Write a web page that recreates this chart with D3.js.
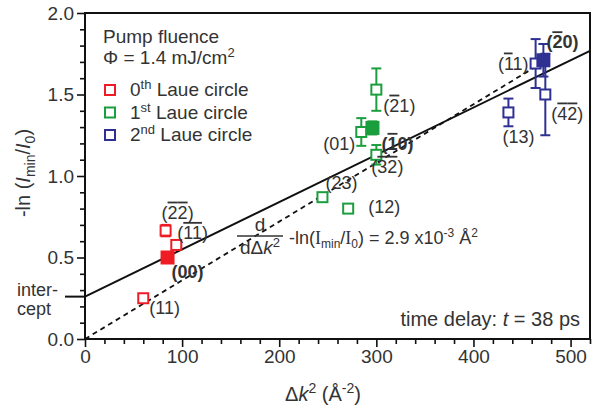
<!DOCTYPE html>
<html>
<head>
<meta charset="utf-8">
<script src="https://cdn.jsdelivr.net/npm/d3@7"></script>
<style>
body { margin: 0; background: #fff; }
svg { display: block; }
text { font-family: "Liberation Sans", Arial, sans-serif; fill: #333; }
</style>
</head>
<body>
<div id="root"></div>
<script>
// axis ticks
const xMajor = [0, 100, 200, 300, 400, 500];
const yMajor = [0.0, 0.5, 1.0, 1.5, 2.0];

// 0th Laue circle
const laue0X = [83, 94, 85, 60];
const laue0Y = [0.665, 0.577, 0.50, 0.25];
const laue0Err = [0.035, 0, 0, 0];
const laue0Filled = [false, false, true, false];
const laue0Labels = ["(-2-2)", "(-1-1)", "(00)", "(11)"];

// 1st Laue circle
const laue1X = [244.5, 271, 300, 284.5, 296, 300];
const laue1Y = [0.87, 0.80, 1.53, 1.27, 1.295, 1.13];
const laue1Err = [0, 0, 0.13, 0.085, 0.04, 0.06];
const laue1Filled = [false, false, false, false, true, false];
const laue1Labels = ["(23)", "(12)", "(-21)", "(01)", "(-10)", "(-3-2)"];

// 2nd Laue circle
const laue2X = [464, 472, 474, 436];
const laue2Y = [1.69, 1.71, 1.50, 1.39];
const laue2Err = [0.15, 0.10, 0.25, 0.085];
const laue2Filled = [false, true, false, false];
const laue2Labels = ["(-11)", "(-20)", "(-4-2)", "(13)"];

// fits
const fitSolid = { intercept: 0.26, slope: 0.0029, xEnd: 520 };
const fitDashed = { intercept: 0, slope: 0.0036, xEnd: 462 };

// label offsets in px from the marker
const labelPos = {
	"(-2-2)": [-4, -12], "(-1-1)": [1, -6], "(00)": [4, 20], "(11)": [6, 16],
	"(23)": [3, -8], "(12)": [20, 4], "(-21)": [7, 22], "(01)": [-6, 18, "end"],
	"(-10)": [9, 22], "(-3-2)": [-5, 18],
	"(-11)": [-7, 6, "end"], "(-20)": [3, -12], "(-4-2)": [6, 25], "(13)": [-6, 31]
};

const W = 598, H = 409;
const margin = { top: 13, right: 8, bottom: 70, left: 85 };
const colors = ["#ee1c24", "#1b9e3e", "#2e3192"];
const FS = 19;

const svg = d3.select("#root").append("svg").attr("width", W).attr("height", H);

const x = d3.scaleLinear().domain([0, 520]).range([margin.left, W - margin.right]);
const y = d3.scaleLinear().domain([0, 2]).range([H - margin.bottom, margin.top]);

// axes with minor ticks
const xMinor = d3.range(0, 521, 20).filter(v => v % 100 !== 0);
const yMinor = d3.range(1, 20).map(v => v / 10).filter(v => Math.round(v * 10) % 5 !== 0);

svg.append("g").attr("transform", `translate(0,${y(0)})`)
	.call(d3.axisBottom(x).tickValues(xMinor).tickSize(5).tickFormat(""));
svg.append("g").attr("transform", `translate(0,${y(0)})`)
	.call(d3.axisBottom(x).tickValues(xMajor).tickSize(8).tickPadding(3).tickFormat(d3.format("d")));
svg.append("g").attr("transform", `translate(${x(0)},0)`)
	.call(d3.axisLeft(y).tickValues(yMinor).tickSize(5).tickFormat(""));
svg.append("g").attr("transform", `translate(${x(0)},0)`)
	.call(d3.axisLeft(y).tickValues(yMajor).tickSize(8).tickPadding(3).tickFormat(d3.format(".1f")));
svg.selectAll(".tick line").attr("stroke", "#111").attr("stroke-width", 1.6);
svg.selectAll(".domain").remove();
svg.selectAll(".tick text").style("font-size", FS + "px").attr("fill", "#333")
	.style("font-family", '"Liberation Sans", Arial, sans-serif');

// frame
svg.append("rect").attr("x", x(0)).attr("y", y(2)).attr("width", x(520) - x(0)).attr("height", y(0) - y(2))
	.attr("fill", "none").attr("stroke", "#111").attr("stroke-width", 2);

// intercept tick
svg.append("line").attr("x1", x(0) - 20).attr("x2", x(0)).attr("y1", y(fitSolid.intercept)).attr("y2", y(fitSolid.intercept))
	.attr("stroke", "#111").attr("stroke-width", 2);

// fit lines
const fitLine = f => d3.line().x(d => x(d)).y(d => y(f.intercept + f.slope * d))([0, f.xEnd]);
svg.append("path").attr("d", fitLine(fitSolid)).attr("stroke", "#111").attr("stroke-width", 2).attr("fill", "none");
svg.append("path").attr("d", fitLine(fitDashed)).attr("stroke", "#111").attr("stroke-width", 1.8)
	.attr("stroke-dasharray", "5,4").attr("fill", "none");

// label with overbars: "-d" means barred digit
function addLabel(g, str, bold) {
	let i = 0;
	while (i < str.length) {
		if (str[i] === "-") {
			g.append("tspan").text(str[i + 1]).style("text-decoration", "overline");
			i += 2;
		} else {
			g.append("tspan").text(str[i]);
			i += 1;
		}
	}
	if (bold) g.style("font-weight", "bold");
}

function drawSeries(xs, ys, errs, filled, labels, color) {
	const data = xs.map((v, i) => ({ x: v, y: ys[i], e: errs[i], f: filled[i], l: labels[i] }));
	const g = svg.append("g");
	data.filter(d => d.e > 0).forEach(d => {
		g.append("line").attr("x1", x(d.x)).attr("x2", x(d.x)).attr("y1", y(d.y - d.e)).attr("y2", y(d.y + d.e))
			.attr("stroke", color).attr("stroke-width", 2);
		[d.y - d.e, d.y + d.e].forEach(v => {
			g.append("line").attr("x1", x(d.x) - 5).attr("x2", x(d.x) + 5).attr("y1", y(v)).attr("y2", y(v))
				.attr("stroke", color).attr("stroke-width", 2);
		});
	});
	g.selectAll("rect").data(data).enter().append("rect")
		.attr("x", d => x(d.x) - (d.f ? 6 : 5)).attr("y", d => y(d.y) - (d.f ? 6 : 5))
		.attr("width", d => d.f ? 12 : 10).attr("height", d => d.f ? 12 : 10)
		.attr("fill", d => d.f ? color : "#fff").attr("stroke", color).attr("stroke-width", 2);
	data.forEach(d => {
		const p = labelPos[d.l];
		const t = svg.append("text").attr("x", x(d.x) + p[0]).attr("y", y(d.y) + p[1])
			.attr("text-anchor", p[2] || "start").style("font-size", "18px");
		addLabel(t, d.l, d.f);
	});
}
drawSeries(laue0X, laue0Y, laue0Err, laue0Filled, laue0Labels, colors[0]);
drawSeries(laue1X, laue1Y, laue1Err, laue1Filled, laue1Labels, colors[1]);
drawSeries(laue2X, laue2Y, laue2Err, laue2Filled, laue2Labels, colors[2]);

// legend
svg.append("text").attr("x", 103).attr("y", 43).style("font-size", FS + "px").text("Pump fluence");
svg.append("text").attr("x", 103).attr("y", 64).style("font-size", FS + "px").text("Φ = 1.4 mJ/cm")
	.append("tspan").attr("dy", -7).style("font-size", "13px").text("2");
const legendNames = [["0", "th"], ["1", "st"], ["2", "nd"]];
legendNames.forEach((n, i) => {
	const cy = 90 + i * 22.5;
	svg.append("rect").attr("x", 105).attr("y", cy - 5).attr("width", 10).attr("height", 10)
		.attr("fill", "#fff").attr("stroke", colors[i]).attr("stroke-width", 2);
	const t = svg.append("text").attr("x", 130).attr("y", cy + 6).style("font-size", FS + "px");
	t.append("tspan").text(n[0]);
	t.append("tspan").attr("dy", -7).style("font-size", "13px").text(n[1]);
	t.append("tspan").attr("dy", 7).text(" Laue circle");
});

// formula annotation
svg.append("text").attr("x", 260).attr("y", 231).attr("text-anchor", "middle").style("font-size", FS + "px").text("d");
svg.append("line").attr("x1", 237).attr("x2", 283).attr("y1", 236).attr("y2", 236).attr("stroke", "#333").attr("stroke-width", 1.5);
const dk = svg.append("text").attr("x", 260).attr("y", 254).attr("text-anchor", "middle").style("font-size", FS + "px");
dk.append("tspan").text("dΔ");
dk.append("tspan").style("font-style", "italic").text("k");
dk.append("tspan").attr("dy", -7).style("font-size", "13px").text("2");
const fm = svg.append("text").attr("x", 289).attr("y", 244).style("font-size", "18px");
fm.append("tspan").text("-ln(");
fm.append("tspan").style("font-family", '"Liberation Serif", serif').text("I");
fm.append("tspan").attr("dy", 4).style("font-size", "12px").text("min");
fm.append("tspan").attr("dy", -4).text("/");
fm.append("tspan").style("font-family", '"Liberation Serif", serif').text("I");
fm.append("tspan").attr("dy", 4).style("font-size", "12px").text("0");
fm.append("tspan").attr("dy", -4).text(") = 2.9 x10");
fm.append("tspan").attr("dy", -7).style("font-size", "12px").text("-3");
fm.append("tspan").attr("dy", 7).text(" Å");
fm.append("tspan").attr("dy", -7).style("font-size", "12px").text("2");

// intercept label
svg.append("text").attr("x", 17).attr("y", 296).style("font-size", "18px").text("inter-");
svg.append("text").attr("x", 17).attr("y", 315).style("font-size", "18px").text("cept");

// time delay
const td = svg.append("text").attr("x", 580).attr("y", 326).attr("text-anchor", "end").style("font-size", "20px");
td.append("tspan").text("time delay: ");
td.append("tspan").style("font-style", "italic").text("t");
td.append("tspan").text(" = 38 ps");

// y axis title
const yt = svg.append("text").attr("transform", "translate(30,173) rotate(-90)").attr("text-anchor", "middle").style("font-size", "20px");
yt.append("tspan").text("-ln (");
yt.append("tspan").style("font-style", "italic").text("I");
yt.append("tspan").attr("dy", 5).style("font-size", "14px").text("min");
yt.append("tspan").attr("dy", -5).text("/");
yt.append("tspan").style("font-style", "italic").text("I");
yt.append("tspan").attr("dy", 5).style("font-size", "14px").text("0");
yt.append("tspan").attr("dy", -5).text(")");

// x axis title
const xt = svg.append("text").attr("x", 323).attr("y", 401).attr("text-anchor", "middle").style("font-size", "20px");
xt.append("tspan").text("Δ");
xt.append("tspan").style("font-style", "italic").text("k");
xt.append("tspan").attr("dy", -8).style("font-size", "14px").text("2");
xt.append("tspan").attr("dy", 8).text(" (Å");
xt.append("tspan").attr("dy", -8).style("font-size", "14px").text("-2");
xt.append("tspan").attr("dy", 8).text(")");
</script>
</body>
</html>
